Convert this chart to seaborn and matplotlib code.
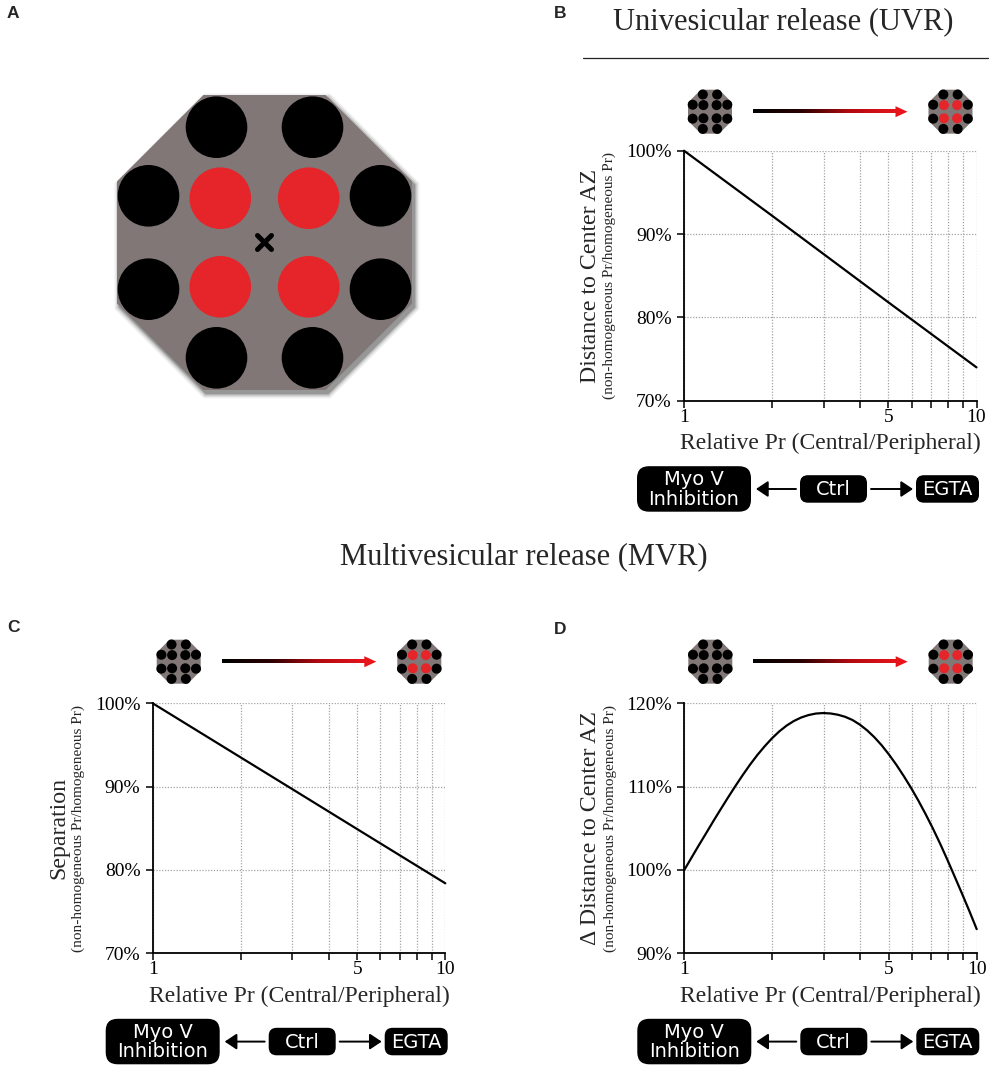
import numpy as np
import pandas as pd
import matplotlib
matplotlib.use("Agg")
import matplotlib.pyplot as plt
import seaborn as sns
from matplotlib import ticker
from matplotlib.patches import Polygon, Circle, FancyBboxPatch
from matplotlib.colors import LinearSegmentedColormap

# ---------------- data ----------------
uvr_ratio = [1, 2, 3, 5, 10]
uvr_distance = [100, 92.2, 87.6, 81.8, 74.0]

mvr_ratio = [1, 2, 3, 5, 10]
mvr_separation = [100, 93.5, 89.7, 84.9, 78.4]

mvr_d_ratio = [1.000, 1.059, 1.122, 1.189, 1.259, 1.334, 1.413, 1.496, 1.585, 1.679,
               1.778, 1.884, 1.995, 2.113, 2.239, 2.371, 2.512, 2.661, 2.818, 2.985,
               3.162, 3.350, 3.548, 3.758, 3.981, 4.217, 4.467, 4.732, 5.012, 5.309,
               5.623, 5.957, 6.310, 6.683, 7.079, 7.499, 7.943, 8.414, 8.913, 9.441,
               10.00]
mvr_delta_distance = [100.00, 101.49, 102.98, 104.44, 105.90, 107.33, 108.73, 110.08,
                      111.40, 112.65, 113.80, 114.85, 115.80, 116.63, 117.33, 117.88,
                      118.30, 118.59, 118.77, 118.83, 118.78, 118.63, 118.38, 118.00,
                      117.45, 116.76, 115.93, 114.96, 113.85, 112.63, 111.30, 109.88,
                      108.35, 106.72, 104.99, 103.15, 101.20, 99.18, 97.14, 95.06,
                      92.90]

x_major = [1, 5, 10]
x_major_labels = ["1", "5", "10"]
x_minor = [2, 3, 4, 6, 7, 8, 9]
yticks_b = [70, 80, 90, 100]
yticks_c = [70, 80, 90, 100]
yticks_d = [90, 100, 110, 120]

title_uvr = "Univesicular release (UVR)"
title_mvr = "Multivesicular release (MVR)"
xlabel_text = "Relative Pr (Central/Peripheral)"
ylabel_b = "Distance to Center AZ"
ylabel_c = "Separation"
ylabel_d = "\u0394 Distance to Center AZ"
ysub_text = "(non-homogeneous Pr/homogeneous Pr)"
box_labels = ["Myo V\nInhibition", "Ctrl", "EGTA"]
panel_letters = ["A", "B", "C", "D"]

# ---------------- style ----------------
sns.set_theme(style="ticks")
plt.rcParams['font.family'] = ['Liberation Serif', 'DejaVu Serif']

W, H = 1000, 1074
fig = plt.figure(figsize=(W / 100, H / 100), dpi=100)
fig.patch.set_facecolor('white')


def add_ax(l, t, r, b):
    return fig.add_axes([l / W, 1 - b / H, (r - l) / W, (b - t) / H])


GRID = dict(ls=(0, (1, 1.3)), color='#a3a3a3', lw=0.9)


def style(ax, yticks):
    ax.set_xscale('log')
    ax.set_xlim(1, 10)
    ax.set_ylim(yticks[0], yticks[-1])
    ax.xaxis.set_major_locator(ticker.FixedLocator(x_major))
    ax.xaxis.set_major_formatter(ticker.FixedFormatter(x_major_labels))
    ax.xaxis.set_minor_locator(ticker.FixedLocator(x_minor))
    ax.xaxis.set_minor_formatter(ticker.NullFormatter())
    ax.yaxis.set_major_locator(ticker.FixedLocator(yticks))
    ax.yaxis.set_major_formatter(ticker.FuncFormatter(lambda v, p: f"{v:.0f}%"))
    ax.yaxis.set_minor_locator(ticker.NullLocator())
    ax.grid(which='both', axis='x', **GRID)
    ax.grid(which='major', axis='y', **GRID)
    ax.set_axisbelow(True)
    for s in ['top', 'right']:
        ax.spines[s].set_visible(False)
    for s in ['left', 'bottom']:
        ax.spines[s].set_linewidth(1.3)
        ax.spines[s].set_color('black')
    ax.tick_params(which='both', direction='out', length=4.8, width=1.1, colors='black',
                   labelsize=14)
    ax.tick_params(axis='x', which='both', pad=1.0)
    ax.tick_params(axis='y', pad=4.0)
    ax.set_xlabel('')
    ax.set_ylabel('')
    ax.set_facecolor('white')


panels = {
    'B': dict(box=(684, 150.7, 976.5, 400.7), x=uvr_ratio, y=uvr_distance,
              yt=yticks_b, ylab=ylabel_b, icon_dy=39),
    'C': dict(box=(152.7, 703.3, 445.3, 953.3), x=mvr_ratio, y=mvr_separation,
              yt=yticks_c, ylab=ylabel_c, icon_dy=41.6),
    'D': dict(box=(684.3, 703.3, 976.7, 953.3), x=mvr_d_ratio, y=mvr_delta_distance,
              yt=yticks_d, ylab=ylabel_d, icon_dy=41.6),
}

for key, p in panels.items():
    ax = add_ax(*p['box'])
    df = pd.DataFrame({'ratio': p['x'], 'value': p['y']})
    sns.lineplot(data=df, x='ratio', y='value', ax=ax, color='black',
                 linewidth=1.6, estimator=None)
    for ln in ax.lines:
        ln.set_clip_on(False)
        ln.set_solid_joinstyle('round')
    style(ax, p['yt'])

# ---------------- overlay for annotations ----------------
ov = fig.add_axes([0, 0, 1, 1])
ov.axis('off')

GRAY = '#807776'
RED = '#e5252a'
oct_ang = np.deg2rad(22.5 + 45 * np.arange(8))
black_off = [(-48, -115.3), (48, -115.3), (-116, -46.7), (116, -46.7),
             (-116, 46.7), (116, 46.7), (-48, 115.3), (48, 115.3)]
red_off = [(-44.2, -44.3), (44.2, -44.3), (-44.2, 44.3), (44.2, 44.3)]


def octagon(cx, cy, half, **kw):
    R = half / np.cos(np.pi / 8)
    pts = np.c_[cx + R * np.cos(oct_ang), cy + R * np.sin(oct_ang)]
    return Polygon(pts, closed=True, **kw)


def draw_az(cx, cy, half, r, red_center, shadow=False):
    s = half / 147.5
    if shadow:
        for d, a in [(5, 0.06), (3.5, 0.09), (2, 0.13), (0.8, 0.2)]:
            ov.add_patch(octagon(cx + 2.5, cy + 3.5, half + d, fc='black', alpha=a, lw=0))
    ov.add_patch(octagon(cx, cy, half, fc=GRAY, ec='none'))
    for dx, dy in black_off:
        ov.add_patch(Circle((cx + dx * s, cy + dy * s), r, fc='black', ec='none'))
    for dx, dy in red_off:
        ov.add_patch(Circle((cx + dx * s, cy + dy * s), r,
                            fc=RED if red_center else 'black', ec='none'))


# Panel A diagram
acx, acy = 264.5, 242.5
draw_az(acx, acy, 147.5, 30.8, True, shadow=True)
for sx in (-1, 1):
    ov.plot([acx - 7, acx + 7], [acy - 7 * sx, acy + 7 * sx], color='black', lw=3.6,
            solid_capstyle='round')

cmap = LinearSegmentedColormap.from_list('br', ['#000000', '#2a0000', '#b00a10', '#e8141b'])


def grad_arrow(x0, x1, y):
    head = 12
    ov.imshow(np.linspace(0, 1, 256)[None, :], cmap=cmap, aspect='auto',
              extent=[x0, x1 - head + 1, y + 1.6, y - 1.6], interpolation='bilinear',
              zorder=3)
    ov.add_patch(Polygon([(x1 - head, y - 5.5), (x1, y), (x1 - head, y + 5.5)],
                         fc='#e8141b', ec='none', zorder=3))


def box(x0, x1, y0, y1, text, rs):
    ov.add_patch(FancyBboxPatch((x0, y0), x1 - x0, y1 - y0,
                                boxstyle=f"round,pad=0,rounding_size={rs}",
                                fc='black', ec='none'))
    ov.text((x0 + x1) / 2, (y0 + y1) / 2 + 0.5, text, color='white', ha='center',
            va='center', family='DejaVu Sans', fontsize=14, linespacing=1.02)


for key, p in panels.items():
    L, T, R, B = p['box']
    iy = T - p['icon_dy']
    draw_az(L + 26, iy, 22, 5.0, False)
    draw_az(R - 26, iy, 22, 5.0, True)
    grad_arrow(L + 69, R - 69, iy)
    mid = (T + B) / 2
    ov.text(L - 94, mid, p['ylab'], rotation=90, ha='center', va='center', fontsize=17.2)
    ov.text(L - 74.5, mid, ysub_text, rotation=90, ha='center', va='center', fontsize=11)
    ov.text((L + R) / 2, B + 43, xlabel_text, ha='center', va='center', fontsize=17)
    yc = B + 88.3
    mx0, mx1 = L - 47, L + 67
    cx0, cx1 = L + 116, L + 183
    ex0, ex1 = L + 232, L + 295
    box(mx0, mx1, B + 65.5, B + 111, box_labels[0], 12)
    box(cx0, cx1, B + 74.5, B + 102, box_labels[1], 8)
    box(ex0, ex1, B + 74.5, B + 102, box_labels[2], 8)
    ap = dict(arrowstyle='-|>,head_length=0.6,head_width=0.4', color='black', lw=1.4,
              shrinkA=0, shrinkB=0, mutation_scale=12)
    ov.annotate('', xy=(mx1 + 5, yc), xytext=(cx0 - 4, yc), arrowprops=ap)
    ov.annotate('', xy=(ex0 - 3, yc), xytext=(cx1 + 4, yc), arrowprops=ap)

ov.text(783, 29.3, title_uvr, ha='center', va='baseline', fontsize=22)
ov.plot([583, 988], [58, 58], color='#222222', lw=0.9)
ov.text(524, 564, title_mvr, ha='center', va='baseline', fontsize=22)

for lt, (x, y) in zip(panel_letters, [(13, 14), (560, 13), (14, 628), (560, 629)]):
    ov.text(x, y, lt, family='Liberation Sans', fontweight='bold', fontsize=12.5,
            ha='center', va='center')

ov.set_xlim(0, W)
ov.set_ylim(H, 0)

fig.savefig('out.png', dpi=100, facecolor='white')
